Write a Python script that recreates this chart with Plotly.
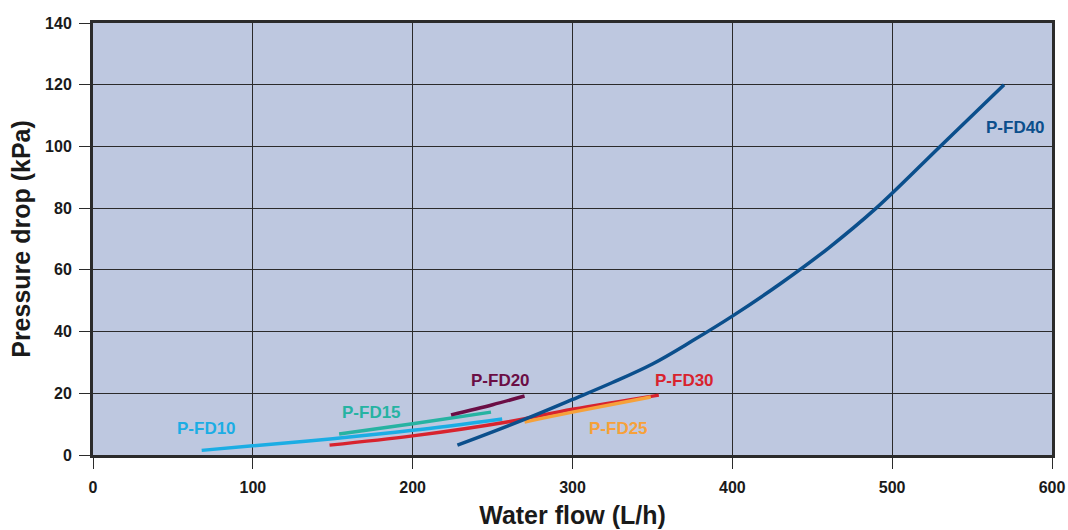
import plotly.graph_objects as go

# Data
fd10_x = [68, 100, 150, 200, 256]
fd10_y = [1.5, 3.0, 5.3, 8.0, 11.7]
fd15_x = [154, 200, 249]
fd15_y = [6.8, 10.1, 13.9]
fd20_x = [224, 250, 270]
fd20_y = [13.0, 16.3, 19.1]
fd30_x = [148, 200, 260, 300, 354]
fd30_y = [3.2, 6.2, 10.8, 14.8, 19.4]
fd25_x = [270, 300, 349]
fd25_y = [10.7, 13.9, 18.8]
fd40_x = [228, 250, 275, 300, 325, 350, 375, 400, 430, 460, 490, 530, 570]
fd40_y = [3.2, 7.5, 12.6, 18.0, 23.5, 29.5, 37.0, 45.0, 55.5, 67.0, 80.0, 100.0, 120.0]

series = [
    ("P-FD10", fd10_x, fd10_y, "#1BADE4", 71, 8.7),
    ("P-FD15", fd15_x, fd15_y, "#26B3A2", 174, 13.9),
    ("P-FD30", fd30_x, fd30_y, "#D8232E", 370, 24.0),
    ("P-FD25", fd25_x, fd25_y, "#F6A13A", 328.5, 8.7),
    ("P-FD20", fd20_x, fd20_y, "#6B0E45", 255, 24.3),
    ("P-FD40", fd40_x, fd40_y, "#0B4F8C", 577, 106),
]

x_ticks = [0, 100, 200, 300, 400, 500, 600]
y_ticks = [0, 20, 40, 60, 80, 100, 120, 140]

fig = go.Figure()
for name, xs, ys, col, lx, ly in series:
    fig.add_trace(go.Scatter(x=xs, y=ys, mode="lines", name=name,
                             line=dict(color=col, width=3.5, shape="spline", smoothing=1.0),
                             showlegend=False))
    fig.add_annotation(x=lx, y=ly, text="<b>" + name + "</b>", showarrow=False,
                       font=dict(family="Liberation Sans", size=17, color=col))

axis_common = dict(
    showgrid=True, gridcolor="#2b2b2b", gridwidth=1.2,
    showline=True, linecolor="#2b2b2b", linewidth=3, mirror=True,
    ticks="outside", ticklen=11, tickcolor="#2b2b2b", tickwidth=1.2,
    zeroline=False, automargin=False,
    tickfont=dict(family="Liberation Sans", size=16, color="#1a1a1a"),
)

fig.update_xaxes(range=[0, 600], tickvals=x_ticks, ticktext=["<b>%d</b>" % v for v in x_ticks],
                 ticklabelstandoff=5, **axis_common,
                 title=dict(text="<b>Water flow (L/h)</b>", standoff=12,
                            font=dict(family="Liberation Sans", size=25, color="#1a1a1a")))
fig.update_yaxes(range=[0, 140], tickvals=y_ticks, ticktext=["<b>%d</b>" % v for v in y_ticks],
                 ticklabelstandoff=4, **axis_common,
                 title=dict(text="<b>Pressure drop (kPa)</b>", standoff=8,
                            font=dict(family="Liberation Sans", size=25, color="#1a1a1a")))

fig.update_layout(
    width=1068, height=530,
    margin=dict(l=93, r=16, t=23, b=75),
    plot_bgcolor="#BEC8E0", paper_bgcolor="white",
)

fig.write_html("out.html", config={"displayModeBar": False},
               post_script="document.body.style.margin='0';document.body.style.overflow='hidden';")
